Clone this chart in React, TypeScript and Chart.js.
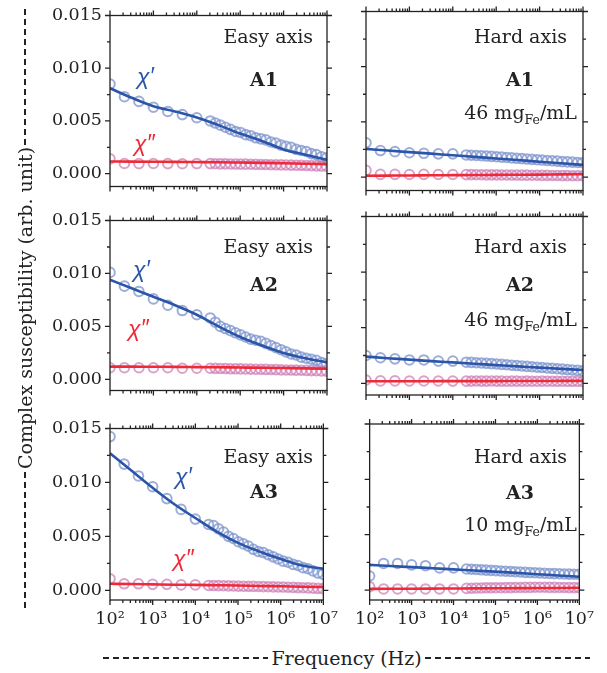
import React, { useEffect, useRef } from 'react';
import { Chart, registerables } from 'chart.js';
Chart.register(...registerables);

// ---------- data ----------
const freqHz = [100, 215, 464, 1000, 2150, 4640, 10000, 20400, 26700, 34900, 45700, 59700, 78100, 102000, 133600, 174600, 228300, 298500, 390400, 510500, 667500, 873000, 1141000, 1493000, 1952000, 2553000, 3338000, 4365000, 5708000, 7464000, 9761000];
const fitFreqHz = [100, 316, 1000, 3162, 10000, 31623, 100000, 316228, 1000000, 3162278, 10000000];

const a1EasyChiRe = [0.0085, 0.0073, 0.00685, 0.0063, 0.0059, 0.0056, 0.0053, 0.0050, 0.0048, 0.0046, 0.0044, 0.0042, 0.0040, 0.0039, 0.0037, 0.0036, 0.0034, 0.0033, 0.0032, 0.0030, 0.0029, 0.0027, 0.0026, 0.0025, 0.0023, 0.0022, 0.0021, 0.0019, 0.0018, 0.0016, 0.0015];
const a1EasyChiIm = [0.0014, 0.00096, 0.00095, 0.00096, 0.00095, 0.00094, 0.00095, 0.00095, 0.00094, 0.00093, 0.00093, 0.00092, 0.00091, 0.0009, 0.0009, 0.00089, 0.00088, 0.00087, 0.00086, 0.00085, 0.00084, 0.00083, 0.00082, 0.00081, 0.0008, 0.00079, 0.00077, 0.00076, 0.00074, 0.00072, 0.0007];
const a1EasyFitRe = [0.0081, 0.0072, 0.0064, 0.0059, 0.00533, 0.0046, 0.0038, 0.0031, 0.0023, 0.0018, 0.0013];
const a1EasyFitIm = [0.00115, 0.00114, 0.00113, 0.00112, 0.0011, 0.00108, 0.00105, 0.00102, 0.00098, 0.00094, 0.0009];

const a1HardChiRe = [0.0031, 0.0024, 0.0023, 0.0022, 0.00215, 0.0021, 0.0021, 0.0020, 0.00198, 0.00195, 0.00193, 0.0019, 0.00187, 0.00184, 0.0018, 0.00177, 0.00174, 0.0017, 0.00167, 0.00163, 0.0016, 0.00157, 0.00154, 0.0015, 0.00147, 0.00144, 0.0014, 0.00137, 0.00135, 0.00132, 0.0013];
const a1HardChiIm = [0.0006, 0.00024, 0.00024, 0.00023, 0.00024, 0.00023, 0.00023, 0.00022, 0.00022, 0.00021, 0.00021, 0.0002, 0.0002, 0.0002, 0.00019, 0.00019, 0.00018, 0.00018, 0.00017, 0.00017, 0.00016, 0.00016, 0.00015, 0.00015, 0.00014, 0.00014, 0.00013, 0.00013, 0.00012, 0.00012, 0.00012];
const a1HardFitRe = [0.00255, 0.0024, 0.00226, 0.00212, 0.00197, 0.00183, 0.00168, 0.00154, 0.00139, 0.00125, 0.0011];
const a1HardFitIm = [0.00012, 0.00013, 0.00014, 0.00016, 0.00017, 0.00018, 0.0002, 0.00021, 0.00022, 0.00024, 0.00025];

const a2EasyChiRe = [0.0101, 0.0088, 0.0083, 0.0076, 0.0070, 0.0065, 0.0061, 0.0058, 0.0054, 0.0050, 0.0048, 0.0046, 0.0044, 0.0042, 0.0040, 0.0038, 0.0037, 0.0036, 0.0034, 0.0032, 0.0030, 0.0028, 0.0026, 0.0024, 0.0023, 0.0021, 0.0020, 0.0019, 0.0018, 0.0016, 0.0015];
const a2EasyChiIm = [0.0011, 0.0011, 0.0011, 0.0011, 0.0011, 0.00105, 0.00105, 0.00105, 0.00104, 0.00103, 0.00102, 0.001, 0.001, 0.00099, 0.00098, 0.00097, 0.00096, 0.00095, 0.00094, 0.00093, 0.00092, 0.0009, 0.00089, 0.00088, 0.00087, 0.00086, 0.00085, 0.00083, 0.00082, 0.0008, 0.00078];
const a2EasyFitRe = [0.0094, 0.0086, 0.0078, 0.0070, 0.0061, 0.0050, 0.0040, 0.0032, 0.0025, 0.0020, 0.0016];
const a2EasyFitIm = [0.0012, 0.0012, 0.00119, 0.00118, 0.00116, 0.00114, 0.00112, 0.0011, 0.00107, 0.00104, 0.001];

const a2HardChiRe = [0.0025, 0.0023, 0.0022, 0.0021, 0.0021, 0.0020, 0.0020, 0.0019, 0.00188, 0.00185, 0.00183, 0.0018, 0.00177, 0.00174, 0.0017, 0.00167, 0.00163, 0.0016, 0.00156, 0.00152, 0.00149, 0.00145, 0.00142, 0.00138, 0.00135, 0.00131, 0.00128, 0.00124, 0.0012, 0.00116, 0.00112];
const a2HardChiIm = [0.0003, 0.00022, 0.00022, 0.00021, 0.00021, 0.00021, 0.0002, 0.0002, 0.0002, 0.00021, 0.0002, 0.0002, 0.00021, 0.0002, 0.0002, 0.00019, 0.0002, 0.0002, 0.00019, 0.0002, 0.00019, 0.00019, 0.0002, 0.00019, 0.00019, 0.00018, 0.00019, 0.00018, 0.00018, 0.00018, 0.00017];
const a2HardFitRe = [0.0024, 0.00226, 0.00213, 0.002, 0.00188, 0.00176, 0.00164, 0.00152, 0.00141, 0.0013, 0.0012];
const a2HardFitIm = [0.00018, 0.00018, 0.00019, 0.00019, 0.0002, 0.0002, 0.0002, 0.00021, 0.00021, 0.00022, 0.00022];

const a3EasyChiRe = [0.01425, 0.0117, 0.0106, 0.0096, 0.0085, 0.0075, 0.0066, 0.0061, 0.0060, 0.0057, 0.0054, 0.0050, 0.0048, 0.0045, 0.0043, 0.0041, 0.0038, 0.0036, 0.0035, 0.0033, 0.0031, 0.0029, 0.0027, 0.0026, 0.0024, 0.0023, 0.0021, 0.0020, 0.0018, 0.0016, 0.0015];
const a3EasyChiIm = [0.00106, 0.0006, 0.0006, 0.00055, 0.00055, 0.0005, 0.0005, 0.00045, 0.00044, 0.00043, 0.00042, 0.00041, 0.0004, 0.00039, 0.00038, 0.00037, 0.00036, 0.00035, 0.00034, 0.00033, 0.00032, 0.00031, 0.0003, 0.00028, 0.00027, 0.00025, 0.00024, 0.00022, 0.0002, 0.00018, 0.00015];
const a3EasyFitRe = [0.0127, 0.0111, 0.0095, 0.0080, 0.0067, 0.00545, 0.0044, 0.0036, 0.0029, 0.0023, 0.0020];
const a3EasyFitIm = [0.0006, 0.00058, 0.00055, 0.00052, 0.0005, 0.00047, 0.00044, 0.0004, 0.00037, 0.00033, 0.0003];

const a3HardChiRe = [0.00127, 0.0024, 0.0024, 0.00227, 0.0022, 0.002, 0.002, 0.0019, 0.00188, 0.00186, 0.00183, 0.0018, 0.00178, 0.00175, 0.00172, 0.0017, 0.00168, 0.00165, 0.00163, 0.0016, 0.00158, 0.00156, 0.00154, 0.00152, 0.0015, 0.00148, 0.00147, 0.00145, 0.00144, 0.00143, 0.00142];
const a3HardChiIm = [0.0003, 0.0001, 0.0001, 0.0001, 0.0001, 0.0001, 0.0001, 0.00015, 0.00016, 0.00018, 0.00019, 0.0002, 0.0002, 0.00021, 0.00021, 0.00022, 0.00022, 0.00023, 0.00023, 0.00024, 0.00024, 0.00025, 0.00025, 0.00025, 0.00024, 0.00024, 0.00023, 0.00023, 0.00022, 0.00022, 0.00021];
const a3HardFitRe = [0.00227, 0.00217, 0.00207, 0.00197, 0.00187, 0.00176, 0.00166, 0.00155, 0.00143, 0.00132, 0.0012];
const a3HardFitIm = [0.0001, 0.00011, 0.00012, 0.00013, 0.00014, 0.00015, 0.00016, 0.00017, 0.00018, 0.00019, 0.0002];

// ---------- axes ----------
const xDecades = [100, 1000, 10000, 100000, 1000000, 10000000];
const xTickLabels = ['10²', '10³', '10⁴', '10⁵', '10⁶', '10⁷'];
const xMinorMultipliers = [2, 3, 4, 5, 6, 7, 8, 9];
const yTickValues = [0, 0.005, 0.01, 0.015];
const yTickLabels = ['0.000', '0.005', '0.010', '0.015'];
const yMinorValues = [0.0025, 0.0075, 0.0125];
const yMax = 0.015;
const rowYMin = [-0.00122, -0.00105, -0.0009];

// ---------- layout ----------
const COL_LEFT = [110, 366];
const PLOT_W = 217;
const ROW_TOP = [11.5, 216.5, 424];
const ROW_H = [179, 178.5, 176];

const FONT = '"DejaVu Serif", serif';
const INK = '#222';
const BLUE_LINE = '#2a55a8';
const RED_LINE = '#ee2a38';
const BLUE_PT = 'rgba(128,150,206,0.78)';
const PINK_PT = 'rgba(205,125,182,0.72)';
const TICK_SIZE = 17.5;
const NOTE_SIZE = 19;

const framePlugin = {
  id: 'frameTicks',
  afterDatasetsDraw(chart: any) {
    const { ctx, chartArea: a, scales } = chart;
    const xs = scales.x, ys = scales.y;
    ctx.save();
    ctx.strokeStyle = INK;
    ctx.lineWidth = 1.3;
    ctx.strokeRect(a.left, a.top, a.right - a.left, a.bottom - a.top);
    ctx.beginPath();
    const xt = (v: number, len: number) => {
      const px = xs.getPixelForValue(v);
      ctx.moveTo(px, a.bottom); ctx.lineTo(px, a.bottom + len);
      ctx.moveTo(px, a.top); ctx.lineTo(px, a.top - len);
    };
    const yt = (v: number, len: number) => {
      const py = ys.getPixelForValue(v);
      ctx.moveTo(a.left, py); ctx.lineTo(a.left - len, py);
      ctx.moveTo(a.right, py); ctx.lineTo(a.right + len, py);
    };
    xDecades.forEach((d, i) => {
      xt(d, 5);
      if (i < xDecades.length - 1) xMinorMultipliers.forEach((m) => xt(d * m, 3));
    });
    yTickValues.forEach((v) => yt(v, 5));
    yMinorValues.forEach((v) => yt(v, 3));
    ctx.stroke();
    ctx.restore();
  },
};

type PanelProps = {
  col: number; row: number;
  chiRe: number[]; chiIm: number[]; fitRe: number[]; fitIm: number[];
};

function Panel({ col, row, chiRe, chiIm, fitRe, fitIm }: PanelProps) {
  const ref = useRef<HTMLCanvasElement>(null);
  const L = col === 0 ? 100 : 20;
  const R = 20;
  const B = row === 2 ? 40 : 14;
  const plotTop = ROW_TOP[row];
  const plotH = ROW_H[row];
  const canvasTop = Math.floor(plotTop - 14);
  const T = plotTop - canvasTop;
  const canvasH = Math.ceil(T + plotH + B);
  const padBottom = canvasH - T - plotH - B;
  const canvasLeft = COL_LEFT[col] - L;
  const canvasW = L + PLOT_W + R;

  useEffect(() => {
    if (!ref.current) return;
    const pts = (xs: number[], ys: number[]) => xs.map((x, i) => ({ x, y: ys[i] }));
    const chart = new Chart(ref.current, {
      type: 'line',
      data: {
        datasets: [
          { data: pts(fitFreqHz, fitRe), borderColor: BLUE_LINE, borderWidth: 2.6, pointRadius: 0, cubicInterpolationMode: 'monotone', order: 0 },
          { data: pts(fitFreqHz, fitIm), borderColor: RED_LINE, borderWidth: 2.6, pointRadius: 0, cubicInterpolationMode: 'monotone', order: 1 },
          { data: pts(freqHz, chiRe), showLine: false, pointRadius: 4.8, pointBorderWidth: 2, pointBorderColor: BLUE_PT, pointBackgroundColor: 'rgba(0,0,0,0)', order: 3 },
          { data: pts(freqHz, chiIm), showLine: false, pointRadius: 4.8, pointBorderWidth: 2, pointBorderColor: PINK_PT, pointBackgroundColor: 'rgba(0,0,0,0)', order: 2 },
        ],
      } as any,
      options: {
        animation: false,
        responsive: false,
        devicePixelRatio: 1,
        events: [],
        layout: { autoPadding: false, padding: { left: 0, top: T, right: R, bottom: padBottom } },
        plugins: { legend: { display: false }, tooltip: { enabled: false } },
        scales: {
          x: {
            type: 'logarithmic', position: 'bottom', min: 100, max: 10000000,
            grid: { display: false, drawTicks: false },
            border: { display: false },
            ticks: {
              display: row === 2, autoSkip: false, maxRotation: 0, padding: 9,
              font: { family: FONT, size: TICK_SIZE }, color: INK,
              callback: (_v: any, i: number) => xTickLabels[i],
            },
            afterBuildTicks: (s: any) => { s.ticks = xDecades.map((v) => ({ value: v })); },
            afterFit: (s: any) => { s.height = B; },
          },
          y: {
            type: 'linear', position: 'left', min: rowYMin[row], max: yMax,
            grid: { display: false, drawTicks: false },
            border: { display: false },
            ticks: {
              display: col === 0, autoSkip: false, padding: 8,
              font: { family: FONT, size: TICK_SIZE }, color: INK,
              callback: (_v: any, i: number) => yTickLabels[i],
            },
            afterBuildTicks: (s: any) => { s.ticks = yTickValues.map((v) => ({ value: v })); },
            afterFit: (s: any) => { s.width = L; },
          },
        },
      } as any,
      plugins: [framePlugin],
    });
    return () => chart.destroy();
  }, []);

  return (
    <canvas
      ref={ref}
      width={canvasW}
      height={canvasH}
      style={{ position: 'absolute', left: canvasLeft, top: canvasTop, width: canvasW, height: canvasH }}
    />
  );
}

type TxtProps = {
  x: number; base: number; align?: 'left' | 'right' | 'center'; size?: number;
  bold?: boolean; italic?: boolean; color?: string; family?: string; children: React.ReactNode;
};

function Txt({ x, base, align = 'left', size = NOTE_SIZE, bold = false, italic = false, color = INK, family = FONT, children }: TxtProps) {
  const style: any = {
    position: 'absolute', top: base - 0.846 * size, fontSize: size, lineHeight: `${size}px`,
    whiteSpace: 'nowrap', fontWeight: bold ? 700 : 400, fontStyle: italic ? 'italic' : 'normal',
    color, fontFamily: family, zIndex: 2,
  };
  if (align === 'right') { style.right = 607 - x; style.textAlign = 'right'; }
  else if (align === 'center') { style.left = x - 100; style.width = 200; style.textAlign = 'center'; }
  else style.left = x;
  return <div style={style}>{children}</div>;
}

const Sub = ({ children }: { children: React.ReactNode }) => (
  <span style={{ fontSize: 12.5, position: 'relative', top: 5 }}>{children}</span>
);

const CHI_FONT = '"Liberation Sans", sans-serif';

const dashBg = `repeating-linear-gradient(to right, ${INK} 0px, ${INK} 6px, transparent 6px, transparent 10px)`;

export default function App() {
  const panels: PanelProps[] = [
    { col: 0, row: 0, chiRe: a1EasyChiRe, chiIm: a1EasyChiIm, fitRe: a1EasyFitRe, fitIm: a1EasyFitIm },
    { col: 1, row: 0, chiRe: a1HardChiRe, chiIm: a1HardChiIm, fitRe: a1HardFitRe, fitIm: a1HardFitIm },
    { col: 0, row: 1, chiRe: a2EasyChiRe, chiIm: a2EasyChiIm, fitRe: a2EasyFitRe, fitIm: a2EasyFitIm },
    { col: 1, row: 1, chiRe: a2HardChiRe, chiIm: a2HardChiIm, fitRe: a2HardFitRe, fitIm: a2HardFitIm },
    { col: 0, row: 2, chiRe: a3EasyChiRe, chiIm: a3EasyChiIm, fitRe: a3EasyFitRe, fitIm: a3EasyFitIm },
    { col: 1, row: 2, chiRe: a3HardChiRe, chiIm: a3HardChiIm, fitRe: a3HardFitRe, fitIm: a3HardFitIm },
  ];
  return (
    <div style={{ position: 'absolute', left: 0, top: 0, width: 607, height: 673, background: '#fff', fontFamily: FONT, color: INK, overflow: 'hidden' }}>
      {panels.map((p) => <Panel key={`${p.col}-${p.row}`} {...p} />)}

      {/* row 1 */}
      <Txt x={313} base={43} align="right">Easy axis</Txt>
      <Txt x={264} base={86.5} align="center" bold>A1</Txt>
      <Txt x={137} base={84} italic size={23} color={BLUE_LINE} family={CHI_FONT}>χ′</Txt>
      <Txt x={134} base={151} italic size={23} color={RED_LINE} family={CHI_FONT}>χ″</Txt>
      <Txt x={567} base={43} align="right">Hard axis</Txt>
      <Txt x={520} base={86.5} align="center" bold>A1</Txt>
      <Txt x={577} base={119} align="right">46 mg<Sub>Fe</Sub>/mL</Txt>

      {/* row 2 */}
      <Txt x={313} base={253} align="right">Easy axis</Txt>
      <Txt x={264} base={291} align="center" bold>A2</Txt>
      <Txt x={133} base={277} italic size={23} color={BLUE_LINE} family={CHI_FONT}>χ′</Txt>
      <Txt x={128} base={336} italic size={23} color={RED_LINE} family={CHI_FONT}>χ″</Txt>
      <Txt x={567} base={253} align="right">Hard axis</Txt>
      <Txt x={520} base={291} align="center" bold>A2</Txt>
      <Txt x={577} base={326} align="right">46 mg<Sub>Fe</Sub>/mL</Txt>

      {/* row 3 */}
      <Txt x={313} base={463} align="right">Easy axis</Txt>
      <Txt x={264} base={498.5} align="center" bold>A3</Txt>
      <Txt x={175} base={484} italic size={23} color={BLUE_LINE} family={CHI_FONT}>χ′</Txt>
      <Txt x={173} base={566} italic size={23} color={RED_LINE} family={CHI_FONT}>χ″</Txt>
      <Txt x={567} base={463} align="right">Hard axis</Txt>
      <Txt x={520} base={499} align="center" bold>A3</Txt>
      <Txt x={577} base={531.5} align="right">10 mg<Sub>Fe</Sub>/mL</Txt>

      {/* y axis title */}
      <div style={{
        position: 'absolute', left: 25 - 300, top: 308 - 10, width: 600, height: 20,
        transform: 'rotate(-90deg)', transformOrigin: '50% 50%', display: 'flex', alignItems: 'center',
      }}>
        <div style={{ flex: 1, height: 1.6, background: dashBg }} />
        <span style={{ fontSize: 19, lineHeight: '20px', padding: '0 2px', whiteSpace: 'nowrap', fontFamily: FONT }}>Complex susceptibility (arb. unit)</span>
        <div style={{ flex: 1, height: 1.6, background: dashBg }} />
      </div>

      {/* x axis title */}
      <div style={{ position: 'absolute', left: 103, top: 648, width: 487, height: 20, display: 'flex', alignItems: 'center' }}>
        <div style={{ flex: 1, height: 1.6, background: dashBg }} />
        <span style={{ fontSize: 19, lineHeight: '20px', padding: '0 3px', whiteSpace: 'nowrap', fontFamily: FONT }}>Frequency (Hz)</span>
        <div style={{ flex: 1, height: 1.6, background: dashBg }} />
      </div>
    </div>
  );
}
